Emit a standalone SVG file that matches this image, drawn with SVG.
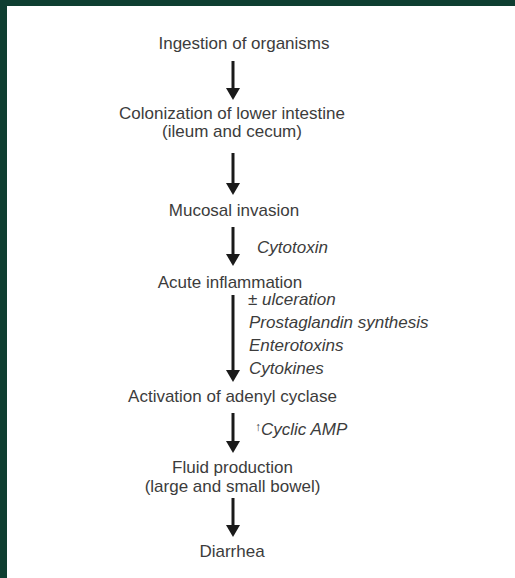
<svg xmlns="http://www.w3.org/2000/svg" width="515" height="578" viewBox="0 0 515 578">
<defs>
<style>
.t{font-family:"Liberation Sans",Arial,sans-serif;font-size:17px;fill:#3c3c3c;text-anchor:middle}
.i{font-family:"Liberation Sans",Arial,sans-serif;font-size:17px;fill:#3c3c3c;font-style:italic}
.c{stroke:#1a1a1a;stroke-width:3;fill:none}
.h{fill:#1a1a1a}
</style>
</defs>
<rect x="0" y="0" width="515" height="578" fill="#0e3e31"/>
<rect x="7" y="6" width="508" height="572" fill="#ffffff"/>
<g id="connectors">
<line class="c" x1="233" y1="61" x2="233" y2="89"/>
<path class="h" d="M226,88 L240,88 L233,100 Z"/>
<line class="c" x1="233" y1="153" x2="233" y2="184"/>
<path class="h" d="M226,183 L240,183 L233,195 Z"/>
<line class="c" x1="233" y1="227" x2="233" y2="255"/>
<path class="h" d="M226,254 L240,254 L233,266 Z"/>
<line class="c" x1="233" y1="295" x2="233" y2="371"/>
<path class="h" d="M226,370 L240,370 L233,382 Z"/>
<line class="c" x1="233" y1="413" x2="233" y2="442"/>
<path class="h" d="M226,441 L240,441 L233,453 Z"/>
<line class="c" x1="233" y1="498" x2="233" y2="526"/>
<path class="h" d="M226,525 L240,525 L233,537 Z"/>
</g>
<g id="n1"><text class="t" x="244" y="49">Ingestion of organisms</text></g>
<g id="n2"><text class="t" x="232" y="119">Colonization of lower intestine</text><text class="t" x="232" y="137">(ileum and cecum)</text></g>
<g id="n3"><text class="t" x="234" y="216">Mucosal invasion</text></g>
<g id="l3"><text class="i" x="257" y="253">Cytotoxin</text></g>
<g id="n4"><text class="t" x="230" y="288">Acute inflammation</text></g>
<g id="l4"><text class="i" x="248" y="305">± ulceration</text><text class="i" x="249" y="328">Prostaglandin synthesis</text><text class="i" x="249" y="351">Enterotoxins</text><text class="i" x="249" y="374">Cytokines</text></g>
<g id="n5"><text class="t" x="232.5" y="402">Activation of adenyl cyclase</text></g>
<g id="l5"><text class="i" x="255" y="435"><tspan font-size="12" dy="-4">↑</tspan><tspan dy="4">Cyclic AMP</tspan></text></g>
<g id="n6"><text class="t" x="232.5" y="473">Fluid production</text><text class="t" x="232.5" y="492">(large and small bowel)</text></g>
<g id="n7"><text class="t" x="232" y="557">Diarrhea</text></g>
</svg>
